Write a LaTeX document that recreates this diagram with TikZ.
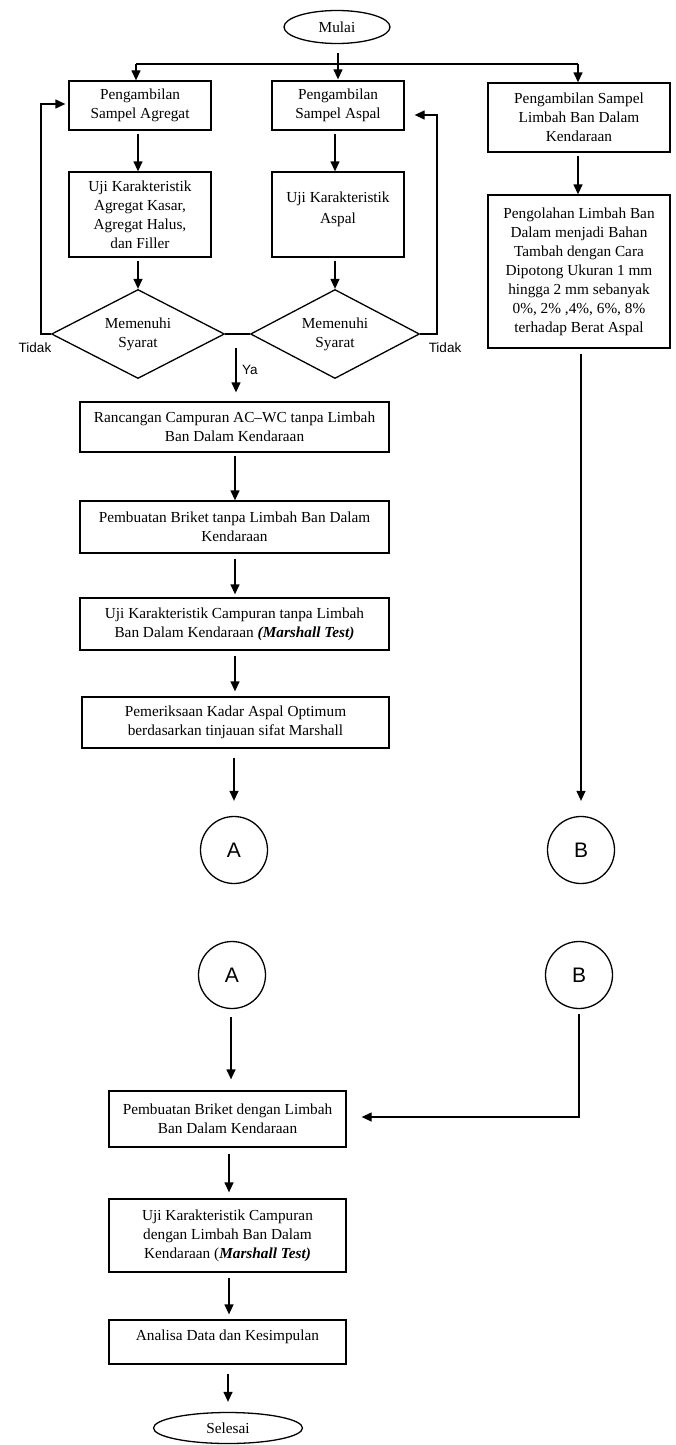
\documentclass[tikz,border=0pt]{standalone}
\usepackage{fontspec}
\setmainfont{Liberation Serif}
\newfontfamily\lsans{Liberation Sans}
\usetikzlibrary{shapes.geometric,arrows.meta,calc}
\begin{document}
\begin{tikzpicture}[x=1pt,y=-1pt,
  box/.style={draw, line width=1.3pt, align=center, inner sep=2pt, font=\fontsize{15.3}{19}\selectfont},
  term/.style={draw, ellipse, line width=1.3pt, inner sep=0pt, font=\fontsize{15.3}{19}\selectfont},
  dec/.style={draw, diamond, shape aspect=1.94, line width=1.3pt, inner sep=0pt, align=center, font=\fontsize{15.3}{19}\selectfont},
  conn/.style={draw, circle, line width=1.3pt, inner sep=0pt, minimum size=67pt, font=\lsans\fontsize{21}{24}\selectfont},
  arr/.style={-{Triangle[length=10pt,width=9pt]}, line width=1.3pt},
  ln/.style={line width=1.3pt},
  lbl/.style={font=\lsans\fontsize{13.5}{16}\selectfont, inner sep=0pt}
]
\useasboundingbox (0,0) rectangle (676,1445);

% nodes
\node[term, minimum width=106pt, minimum height=33pt] (mulai) at (337,27) {Mulai};
\node[box, minimum width=142pt, minimum height=49pt] (b1) at (140,105.5) {Pengambilan\\Sampel Agregat};
\node[box, minimum width=132pt, minimum height=49pt] (b2) at (338,105.5) {Pengambilan\\Sampel Aspal};
\node[box, minimum width=182pt, minimum height=69pt] (b3) at (579,117.5) {Pengambilan Sampel\\Limbah Ban Dalam\\Kendaraan};
\node[box, minimum width=142pt, minimum height=85pt] (b4) at (140,214.5) {Uji Karakteristik\\Agregat Kasar,\\Agregat Halus,\\dan Filler};
\node[box, minimum width=132pt, minimum height=85pt] (b5) at (338,214.5) {};
\node[align=center, font=\fontsize{15.3}{21}\selectfont, inner sep=0pt] (b5t) at (338,209) {Uji Karakteristik\\Aspal};
\node[box, minimum width=182pt, minimum height=153pt] (b6) at (579,271.5) {Pengolahan Limbah Ban\\Dalam menjadi Bahan\\Tambah dengan Cara\\Dipotong Ukuran 1 mm\\hingga 2 mm sebanyak\\0\%, 2\% ,4\%, 6\%, 8\%\\terhadap Berat Aspal};
\node[dec, minimum width=173pt, minimum height=89pt] (d1) at (138,334) {Memenuhi\\Syarat};
\node[dec, minimum width=169pt, minimum height=89pt] (d2) at (335,334) {Memenuhi\\Syarat};
\node[box, minimum width=309pt, minimum height=50pt] (b7) at (234.5,427) {Rancangan Campuran AC--WC tanpa Limbah\\Ban Dalam Kendaraan};
\node[box, minimum width=309pt, minimum height=52pt] (b8) at (234.5,527) {Pembuatan Briket tanpa Limbah Ban Dalam\\Kendaraan};
\node[box, minimum width=309pt, minimum height=52pt] (b9) at (234.5,624) {Uji Karakteristik Campuran tanpa Limbah\\Ban Dalam Kendaraan \textbf{\textit{(Marshall Test)}}};
\node[box, minimum width=307pt, minimum height=51pt] (b10) at (235.5,722.5) {Pemeriksaan Kadar Aspal Optimum\\berdasarkan tinjauan sifat Marshall};
\node[conn] (A) at (234,850) {A};
\node[conn] (B) at (581,850) {B};
\node[conn] (A2) at (232,975) {A};
\node[conn] (B2) at (579,975) {B};
\node[box, minimum width=237pt, minimum height=56pt] (b11) at (227.5,1119) {Pembuatan Briket dengan Limbah\\Ban Dalam Kendaraan};
\node[box, minimum width=237pt, minimum height=73pt] (b12) at (227.5,1235.5) {Uji Karakteristik Campuran\\dengan Limbah Ban Dalam\\Kendaraan (\textbf{\textit{Marshall Test)}}};
\node[box, minimum width=237pt, minimum height=44pt] (b13) at (227.5,1342) {};
\node[font=\fontsize{15.3}{19}\selectfont, inner sep=0pt] (b13t) at (227.5,1337) {Analisa Data dan Kesimpulan};
\node[term, minimum width=149pt, minimum height=31pt] (selesai) at (228,1428) {Selesai};

% labels
\node[lbl] (tidak1) at (35,348) {Tidak};
\node[lbl] (tidak2) at (445,348) {Tidak};
\node[lbl, anchor=west] (ya) at (242,370) {Ya};

% coordinates
\coordinate (c1) at (136,64);
\coordinate (c3) at (578,64);
\coordinate (ls) at (41,334);
\coordinate (lt) at (41,104);
\coordinate (rs) at (437,334);
\coordinate (rt) at (437,115);
\coordinate (yas) at (236,348);
\coordinate (bend) at (579,1117);
\coordinate (x1) at (138,0);
\coordinate (x2) at (335,0);
\coordinate (x7) at (235,0);
\coordinate (xa) at (234,0);
\coordinate (xa2) at (231,0);
\coordinate (x11) at (229,0);

% connectors
\draw[arr, shorten <=9pt, shorten >=1pt] (mulai.south -| b2.north) -- (b2.north);
\draw[ln] (c1) -- (c3);
\draw[arr] (c1) -- (c1 |- b1.north);
\draw[arr] (c3) -- (c3 |- b3.north);
\draw[arr, shorten <=3pt] (x1 |- b1.south) -- (x1 |- b4.north);
\draw[arr, shorten <=3pt] (x2 |- b2.south) -- (x2 |- b5.north);
\draw[arr, shorten <=3pt] (c3 |- b3.south) -- (c3 |- b6.north);
\draw[arr, shorten <=3pt] (x1 |- b4.south) -- (d1.north);
\draw[arr, shorten <=3pt] (x2 |- b5.south) -- (d2.north);
\draw[ln] (d1.east) -- (d2.west);
\draw[arr, shorten >=3pt] (d1.west) -- (ls) -- (lt) -- (lt -| b1.west);
\draw[arr, shorten >=10pt] (d2.east) -- (rs) -- (rt) -- (rt -| b2.east);
\draw[arr, shorten >=9pt] (yas) -- (yas |- b7.north);
\draw[arr, shorten <=3pt] (x7 |- b7.south) -- (x7 |- b8.north);
\draw[arr, shorten <=5pt, shorten >=3pt] (x7 |- b8.south) -- (x7 |- b9.north);
\draw[arr, shorten <=5pt, shorten >=5pt] (x7 |- b9.south) -- (x7 |- b10.north);
\draw[arr, shorten <=9pt, shorten >=15pt] (xa |- b10.south) -- (A.north);
\draw[arr, shorten <=5pt, shorten >=15pt] (B.north |- b6.south) -- (B.north);
\draw[arr, shorten <=8pt, shorten >=11pt] (xa2 |- A2.south) -- (xa2 |- b11.north);
\draw[arr, shorten <=5pt, shorten >=15pt] (B2.south) -- (bend) -- (bend -| b11.east);
\draw[arr, shorten <=6pt, shorten >=6pt] (x11 |- b11.south) -- (x11 |- b12.north);
\draw[arr, shorten <=5pt, shorten >=5pt] (x11 |- b12.south) -- (x11 |- b13.north);
\draw[arr, shorten <=9pt, shorten >=10pt] (selesai.north |- b13.south) -- (selesai.north);
\end{tikzpicture}
\end{document}
